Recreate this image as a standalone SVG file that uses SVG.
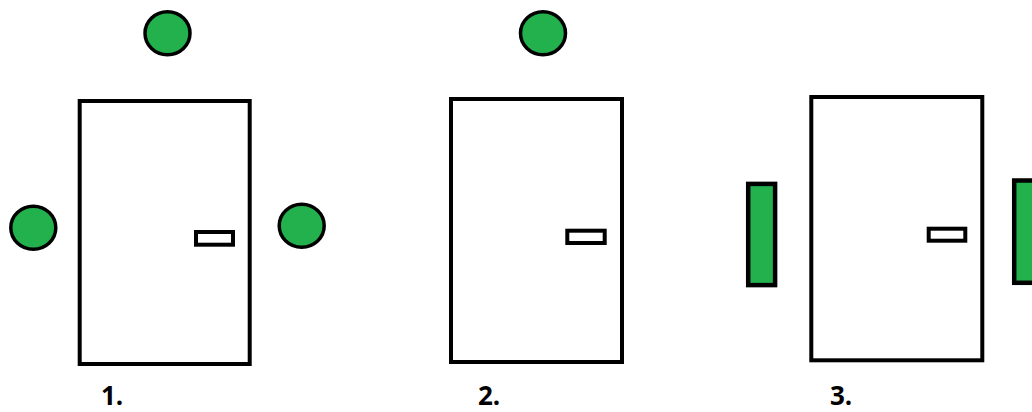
<svg xmlns="http://www.w3.org/2000/svg" width="1032" height="412" viewBox="0 0 1032 412">
<style>
.door{fill:#fff;stroke:#000;stroke-width:4}
.handle{fill:#fff;stroke:#000;stroke-width:4}
.dot{fill:#22b14c;stroke:#000;stroke-width:3.5}
.bar{fill:#22b14c;stroke:#000;stroke-width:4.5}
.lbl{font-family:"Open Sans","DejaVu Sans",sans-serif;font-weight:bold;font-size:26px;fill:#000}
</style>
<rect width="1032" height="412" fill="#fff"/>
<g id="door1">
<rect class="door" x="79.7" y="101" width="170" height="263"/>
<rect class="handle" x="196" y="232" width="37" height="12.7"/>
</g>
<g id="d1-top"><ellipse class="dot" cx="167.5" cy="33.3" rx="22.5" ry="21.5"/></g>
<g id="d1-left"><ellipse class="dot" cx="33.3" cy="227.8" rx="22.5" ry="21.5"/></g>
<g id="d1-right"><ellipse class="dot" cx="301.7" cy="225.8" rx="22.5" ry="21.5"/></g>
<g id="label1"><text class="lbl" x="101" y="405">1.</text></g>

<g id="door2">
<rect class="door" x="451" y="99" width="171" height="263"/>
<rect class="handle" x="567.3" y="230.7" width="37.4" height="12.3"/>
</g>
<g id="d2-top"><ellipse class="dot" cx="543" cy="33.3" rx="22.5" ry="21.5"/></g>
<g id="label2"><text class="lbl" x="478" y="405">2.</text></g>

<g id="door3">
<rect class="door" x="811.3" y="97" width="171" height="263.3"/>
<rect class="handle" x="928.7" y="228.7" width="36.6" height="12"/>
</g>
<g id="d3-left"><rect class="bar" x="748.2" y="183.9" width="26.9" height="101.2"/></g>
<g id="d3-right"><rect class="bar" x="1014.2" y="180.5" width="30" height="102.3"/></g>
<g id="label3"><text class="lbl" x="830" y="405">3.</text></g>
<g id="connectors"/>
</svg>
